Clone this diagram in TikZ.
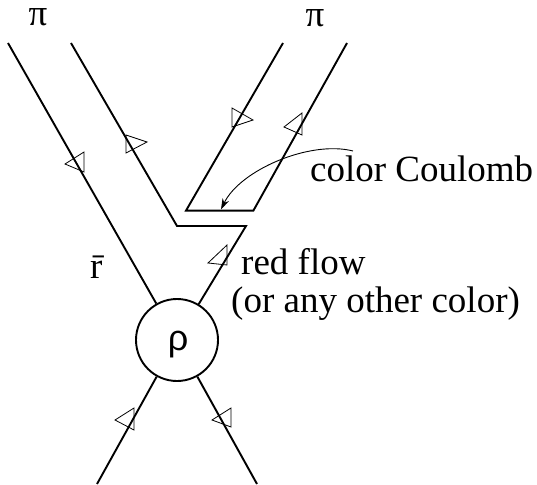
\documentclass[tikz,border=0pt]{standalone}
\usepackage{fontspec}
\setmainfont{Liberation Serif}
\setsansfont{Liberation Sans}
\usetikzlibrary{arrows.meta}
\begin{document}
\begin{tikzpicture}[x=1pt,y=-1pt,
  quark/.style={line width=1.9pt, line join=miter},
  tri/.style={line width=0.8pt, line join=miter},
  lbl/.style={font=\fontsize{37}{40}\selectfont, inner sep=0pt},
  callout/.style={line width=0.9pt, -{Stealth[length=11pt,width=7pt]}}]
\useasboundingbox (0,0) rectangle (537,484);
% vertex
\node[circle, draw, line width=1.9pt, minimum size=82pt, inner sep=0pt] (rho) at (177,340) {};
\node[lbl, font=\fontsize{36}{40}\sffamily\selectfont, anchor=base] (rhotxt) at (178,350) {ρ};
% end points
\coordinate (a1) at (8,43);
\coordinate (a2) at (257,484);
\coordinate (b1) at (71,43);
\coordinate (b2) at (177,226);
\coordinate (b3) at (246,226);
\coordinate (b4) at (97,484);
\coordinate (c1) at (283,43);
\coordinate (c2) at (186,210.6);
\coordinate (d1) at (347,43);
\coordinate (d2) at (253.4,210.6);
% quark lines
\draw[quark] (a1) -- (rho);
\draw[quark] (rho) -- (a2);
\draw[quark] (b1) -- (b2) -- (b3) -- (rho);
\draw[quark] (rho) -- (b4);
\draw[quark] (c1) -- (c2) -- (d2) -- (d1);
% open triangle arrows
\draw[tri] (65,164) -- (84,152) -- (84,172) -- cycle;
\draw[tri] (147,142) -- (126,135) -- (126,153) -- cycle;
\draw[tri] (253,120) -- (232,108) -- (232,127) -- cycle;
\draw[tri] (284,127) -- (302,113) -- (302,135) -- cycle;
\draw[tri] (208,263) -- (227,245) -- (227,265) -- cycle;
\draw[tri] (115,420) -- (134,408) -- (134,430) -- cycle;
\draw[tri] (212,420) -- (231,408) -- (231,427) -- cycle;
% labels
\node[lbl, anchor=base] (pil) at (38,26) {π};
\node[lbl, anchor=base] (pir) at (315,26.7) {π};
\node[lbl, anchor=base west] (cc) at (310,181.5) {color Coulomb};
\node[lbl, anchor=base west] (rf) at (241,274) {red flow};
\node[lbl, anchor=base west] (oc) at (231,312.6) {(or any other color)};
\node[lbl, anchor=base west] (rbar) at (90,278.7) {\={r}};
% callout
\coordinate (cs) at (353,151);
\coordinate (ct) at (221,209.5);
\draw[callout] (cs) .. controls (310,140) and (240,170) .. (ct);
\end{tikzpicture}
\end{document}
